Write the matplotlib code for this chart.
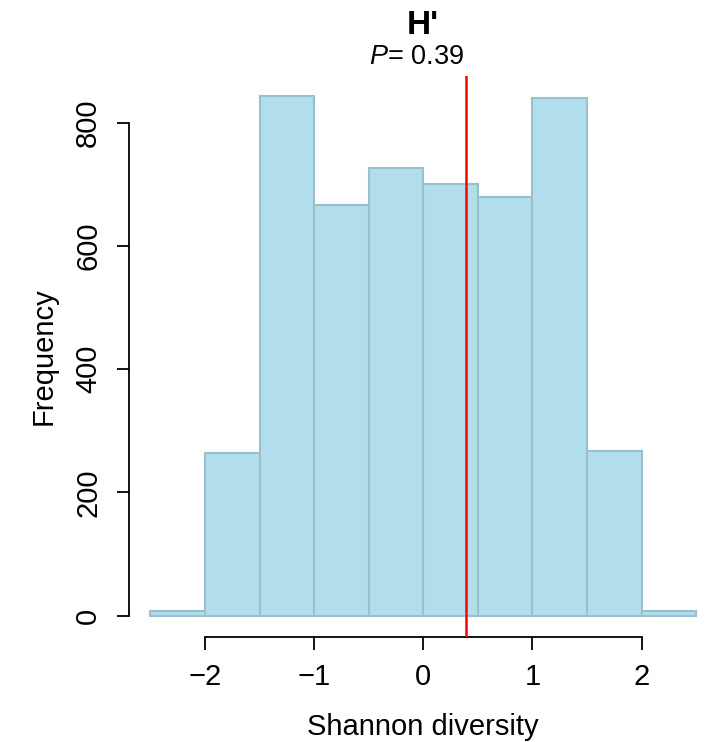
import matplotlib
matplotlib.use('Agg')
import matplotlib.pyplot as plt
import numpy as np

plt.rcParams['font.family'] = ['Liberation Sans', 'DejaVu Sans']
plt.rcParams['mathtext.fontset'] = 'custom'
plt.rcParams['mathtext.it'] = 'Liberation Sans:italic'
plt.rcParams['mathtext.rm'] = 'Liberation Sans'

# histogram of permuted H' values
bin_left = [-2.5, -2.0, -1.5, -1.0, -0.5, 0.0, 0.5, 1.0, 1.5, 2.0]
counts = [8, 264, 843, 667, 726, 700, 679, 841, 267, 7]
bin_width = 0.5
observed = 0.39
p_value = 0.39
x_ticks = [-2, -1, 0, 1, 2]
y_ticks = [0, 200, 400, 600, 800]


def main():
    fig = plt.figure(figsize=(7.19, 7.42), dpi=100)
    ax = fig.add_axes([128.5 / 719, 1 - 636.5 / 742, (718 - 128.5) / 719, (636.5 - 75.5) / 742])

    ax.bar(bin_left, counts, width=bin_width, align='edge',
           color='#B2DEEC', edgecolor='#9AC0CD', linewidth=1.5, zorder=2)
    ax.axvline(observed, color='red', linewidth=1.8, zorder=3)

    ymax = max(counts)
    ax.set_xlim(-2.7, 2.7)
    ax.set_ylim(-0.04 * ymax, 1.04 * ymax)

    # R-style detached axes
    for s in ['top', 'right']:
        ax.spines[s].set_visible(False)
    ax.spines['left'].set_bounds(y_ticks[0], y_ticks[-1])
    ax.spines['bottom'].set_bounds(x_ticks[0], x_ticks[-1])
    for s in ['left', 'bottom']:
        ax.spines[s].set_linewidth(1.3)

    ax.set_xticks(x_ticks)
    ax.set_xticklabels(['\u2212' + str(-t) if t < 0 else str(t) for t in x_ticks])
    ax.set_yticks(y_ticks)
    ax.set_yticklabels([str(t) for t in y_ticks], rotation=90, va='center')
    ax.tick_params(axis='both', labelsize=21, length=9, width=1.3, direction='out')
    ax.tick_params(axis='x', pad=10)
    ax.tick_params(axis='y', pad=10)

    ax.set_xlabel('Shannon diversity', fontsize=21, labelpad=16)
    ax.set_ylabel('Frequency', fontsize=21, labelpad=12)

    fig.text(423 / 719, 1 - 25 / 742, "H'", fontsize=24, fontweight='bold',
             ha='center', va='center')
    fig.text(416 / 719, 1 - 57 / 742, r'$\mathit{P}$= ' + f'{p_value:.2f}',
             fontsize=19.5, ha='center', va='center')

    fig.savefig('out.png', dpi=100)
    plt.close(fig)


if __name__ == '__main__':
    main()
